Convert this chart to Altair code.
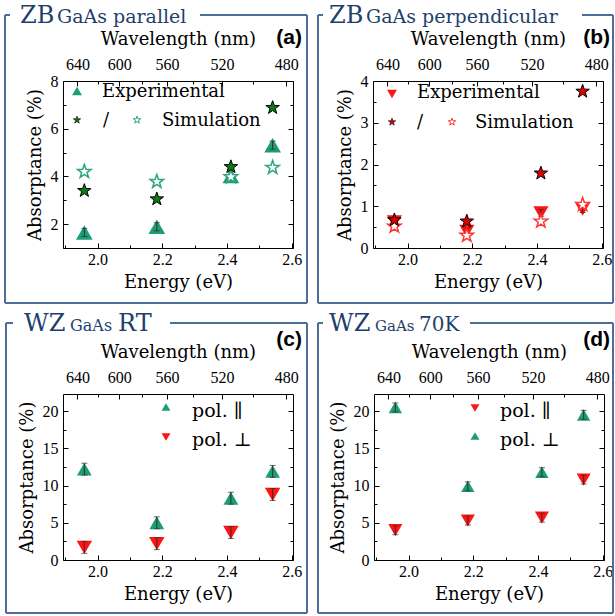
import altair as alt
import pandas as pd

W, H = 615, 616

# ---------------- data ----------------
energy = [1.959, 2.183, 2.412, 2.541]          # eV (laser lines)
energy_ticks = [2.0, 2.2, 2.4, 2.6]
energy_minor = [1.9, 2.1, 2.3, 2.5]
wavelength_ticks = [640, 600, 560, 520, 480]    # nm
wavelength_minor = [620, 580, 540, 500]
HC = 1240.0

# (a) ZB GaAs parallel
a_exp = [1.65, 1.89, 4.02, 5.31]
a_exp_err = [0.17, 0.17, 0.17, 0.17]
a_sim_filled = [3.40, 3.05, 4.40, 6.88]
a_sim_open = [4.20, 3.78, 3.98, 4.37]

# (b) ZB GaAs perpendicular
b_exp = [0.63, 0.40, 0.84, 0.93]
b_exp_err = [0.08, 0.08, 0.08, 0.08]
b_sim_filled = [0.67, 0.64, 1.79, 3.75]
b_sim_open = [0.52, 0.30, 0.64, 1.04]

# (c) WZ GaAs RT
c_par = [12.2, 5.0, 8.3, 11.9]
c_par_err = [0.8, 0.8, 0.8, 0.8]
c_perp = [1.7, 2.2, 3.7, 8.8]
c_perp_err = [0.8, 0.8, 0.8, 0.8]

# (d) WZ GaAs 70K
d_par = [4.0, 5.3, 5.7, 10.8]
d_par_err = [0.6, 0.6, 0.6, 0.6]
d_perp = [20.5, 9.9, 11.8, 19.5]
d_perp_err = [0.6, 0.6, 0.6, 0.6]

yticks_a, yminor_a = [2, 4, 6, 8], [1, 3, 5, 7]
yticks_b, yminor_b = [0, 1, 2, 3, 4], [0.5, 1.5, 2.5, 3.5]
yticks_cd, yminor_cd = [0, 5, 10, 15, 20], [2.5, 7.5, 12.5, 17.5]

# texts
x_title = "Energy (eV)"
top_title = "Wavelength (nm)"
y_title = "Absorptance (%)"
leg_exp = "Experimental"
leg_sim = "Simulation"
leg_slash = "/"
leg_par = "pol. \u2225"
leg_perp = "pol. \u22a5"

# ---------------- style ----------------
TICK_FONT = "Liberation Serif"
TXT_FONT = "DejaVu Serif"
LAB_FONT = "Liberation Sans"
GREEN = "#1b9e77"
DKGREEN = "#0b7a12"
OPGREEN = "#2aa57c"
RED = "#ff1414"
DKRED = "#dd0000"
OPRED = "#ff3333"
BLUE = "#1e3f6c"
FRAME = "#4d6e98"
ERR = "#3a2a2a"
STAR = ("M0,-1L0.235,-0.324L0.951,-0.309L0.380,0.124L0.588,0.809L0,0.4"
        "L-0.588,0.809L-0.380,0.124L-0.951,-0.309L-0.235,-0.324Z")

XDOM = [1.893, 2.604]

P = {
    "a": dict(xr=(63, 293), yr=(248, 81), ydom=(1, 8), ymaj=yticks_a, ymin=yminor_a),
    "b": dict(xr=(373, 603), yr=(248, 81), ydom=(0, 4), ymaj=yticks_b, ymin=yminor_b),
    "c": dict(xr=(63, 293), yr=(560, 394), ydom=(0, 22.3), ymaj=yticks_cd, ymin=yminor_cd),
    "d": dict(xr=(374, 604), yr=(560, 394), ydom=(0, 22.3), ymaj=yticks_cd, ymin=yminor_cd),
}

wl_pos = [HC / w for w in wavelength_ticks]
wl_minor_pos = [HC / w for w in wavelength_minor]


def sx(p):
    return alt.Scale(domain=XDOM, range=list(p["xr"]), nice=False, zero=False)


def sy(p):
    return alt.Scale(domain=list(p["ydom"]), range=list(p["yr"]), nice=False, zero=False)


def axis_layer(p, xaxis, yaxis):
    df = pd.DataFrame({"x": [XDOM[0]], "y": [p["ydom"][0]]})
    return alt.Chart(df).mark_point(opacity=0).encode(
        x=alt.X("x:Q", scale=sx(p), axis=xaxis),
        y=alt.Y("y:Q", scale=sy(p), axis=yaxis),
    )


TK = dict(grid=False, domain=False, labels=False, ticks=True, tickColor="black",
          tickWidth=1, title=None)
LBL = dict(grid=False, domain=True, domainColor="black", domainWidth=1, ticks=False,
           tickSize=0, labelFont=TICK_FONT, labelFontSize=16, labelColor="black",
           labelFlush=False, labelOverlap=False, titleFont=TXT_FONT, titleFontSize=18,
           titleFontWeight="normal", titleColor="black")


def axes_for(p):
    xl, xr = p["xr"]
    yb, yt = p["yr"]
    L = []
    L.append(axis_layer(
        p,
        alt.Axis(orient="bottom", offset=yb - H, values=energy_ticks, format=".1f",
                 labelPadding=3, title=x_title, titlePadding=6, **LBL),
        alt.Axis(orient="left", offset=-xl, values=p["ymaj"], labelPadding=5,
                 title=y_title, titlePadding=6, **LBL)))
    L.append(axis_layer(
        p,
        alt.Axis(orient="top", offset=-yt, values=wl_pos,
                 labelExpr="format(1240 / datum.value, '.0f')", labelPadding=9,
                 title=top_title, titlePadding=8, **LBL),
        alt.Axis(orient="right", offset=xr - W, grid=False, domain=True,
                 domainColor="black", ticks=False, labels=False, title=None)))
    L.append(axis_layer(
        p,
        alt.Axis(orient="bottom", offset=yb - 5 - H, values=energy_ticks, tickSize=5, **TK),
        alt.Axis(orient="left", offset=-(xl + 5), values=p["ymaj"], tickSize=5, **TK)))
    L.append(axis_layer(
        p,
        alt.Axis(orient="top", offset=-(yt + 5), values=wl_pos, tickSize=5, **TK),
        alt.Axis(orient="right", offset=(xr - 5) - W, values=p["ymaj"], tickSize=5, **TK)))
    L.append(axis_layer(
        p,
        alt.Axis(orient="bottom", offset=yb - 3 - H, values=energy_minor, tickSize=3, **TK),
        alt.Axis(orient="left", offset=-(xl + 3), values=p["ymin"], tickSize=3, **TK)))
    L.append(axis_layer(
        p,
        alt.Axis(orient="top", offset=-(yt + 3), values=wl_minor_pos, tickSize=3, **TK),
        alt.Axis(orient="right", offset=(xr - 3) - W, values=p["ymin"], tickSize=3, **TK)))
    return L


def points(p, ys, shape, size, fill, stroke=None, sw=0.0):
    df = pd.DataFrame({"x": energy, "y": ys})
    kw = dict(shape=shape, size=size, filled=True, fill=fill, opacity=1)
    if stroke is not None:
        kw.update(stroke=stroke, strokeWidth=sw)
    else:
        kw.update(strokeWidth=0)
    return alt.Chart(df).mark_point(**kw).encode(
        x=alt.X("x:Q", scale=sx(p), axis=None),
        y=alt.Y("y:Q", scale=sy(p), axis=None))


def errbars(p, ys, errs):
    df = pd.DataFrame({"x": energy,
                       "lo": [y - e for y, e in zip(ys, errs)],
                       "hi": [y + e for y, e in zip(ys, errs)]})
    base = alt.Chart(df)
    X = alt.X("x:Q", scale=sx(p), axis=None)
    rule = base.mark_rule(color=ERR, strokeWidth=1).encode(
        x=X, y=alt.Y("lo:Q", scale=sy(p), axis=None), y2="hi:Q")
    caps = [base.mark_tick(orient="horizontal", size=6, thickness=1, color=ERR).encode(
        x=X, y=alt.Y(f"{c}:Q", scale=sy(p), axis=None)) for c in ("lo", "hi")]
    return [rule] + caps


def text(s, x, y, size, font=TXT_FONT, color="black", align="left",
         baseline="middle", weight="normal"):
    return alt.Chart(pd.DataFrame({"t": [s]})).mark_text(
        align=align, baseline=baseline, font=font, fontSize=size, color=color,
        fontWeight=weight).encode(x=alt.value(x), y=alt.value(y), text="t:N")


def marker(x, y, shape, size, fill, stroke=None, sw=0.0):
    kw = dict(shape=shape, size=size, filled=True, fill=fill, opacity=1)
    if stroke is not None:
        kw.update(stroke=stroke, strokeWidth=sw)
    else:
        kw.update(strokeWidth=0)
    return alt.Chart(pd.DataFrame({"k": [0]})).mark_point(**kw).encode(
        x=alt.value(x), y=alt.value(y))


def seg(x1, y1, x2, y2):
    return alt.Chart(pd.DataFrame({"k": [0]})).mark_rule(
        color=FRAME, strokeWidth=2).encode(
        x=alt.value(x1), y=alt.value(y1), x2=alt.value(x2), y2=alt.value(y2))


def frame(l, t, r, b, gap0, gap1):
    return [seg(l, t, gap0, t), seg(gap1, t, r, t), seg(r, t, r, b),
            seg(l, b, r, b), seg(l, t, l, b)]


layers = []
# frames
layers += frame(5, 15, 307, 303, 10, 200)
layers += frame(318, 15, 613, 303, 323, 582)
layers += frame(6, 323, 307, 613, 13, 170)
layers += frame(318, 323, 613, 613, 323, 470)

# panel titles
T = dict(color=BLUE, baseline="alphabetic")
layers += [text("ZB", 20, 23, 24, **T),
           text("GaAs parallel", 57, 23, 19, **T),
           text("ZB", 329, 23, 24, **T),
           text("GaAs perpendicular", 366, 23, 19, **T),
           text("WZ", 24, 331, 24, **T),
           text("GaAs", 70, 331, 16, **T),
           text("RT", 118, 331, 24, **T),
           text("WZ", 329, 331, 24, **T),
           text("GaAs", 375, 331, 15, **T),
           text("70K", 419, 331, 20, **T)]

# panel letters
layers += [text("(a)", 302, 38, 21, font=LAB_FONT, align="right", weight="bold"),
           text("(b)", 610, 38, 21, font=LAB_FONT, align="right", weight="bold"),
           text("(c)", 302, 340, 21, font=LAB_FONT, align="right", weight="bold"),
           text("(d)", 610, 340, 21, font=LAB_FONT, align="right", weight="bold")]

# axes
for k in "abcd":
    layers += axes_for(P[k])

# ---- panel a ----
pa = P["a"]
layers.append(points(pa, a_exp, "triangle-up", 280, GREEN))
layers += errbars(pa, a_exp, a_exp_err)
layers.append(points(pa, a_sim_open, STAR, 200, "white", OPGREEN, 1.5))
layers.append(points(pa, a_sim_filled, STAR, 200, DKGREEN, "black", 1))
layers += [marker(77, 91, "triangle-up", 100, GREEN),
           text(leg_exp, 102, 92, 18),
           marker(77, 120, STAR, 60, DKGREEN, "black", 0.6),
           text(leg_slash, 103, 121, 18),
           marker(137, 120, STAR, 60, "white", OPGREEN, 1),
           text(leg_sim, 162, 121, 18)]

# ---- panel b ----
pb = P["b"]
layers.append(points(pb, b_exp, "triangle-down", 230, RED))
layers += errbars(pb, b_exp, b_exp_err)
layers.append(points(pb, b_sim_open, STAR, 200, "white", OPRED, 1.5))
layers.append(points(pb, b_sim_filled, STAR, 200, DKRED, "black", 1))
layers += [marker(392, 94, "triangle-down", 100, RED),
           text(leg_exp, 417, 93, 18),
           marker(392, 122, STAR, 60, DKRED, "black", 0.6),
           text(leg_slash, 417, 123, 18),
           marker(452, 122, STAR, 60, "white", OPRED, 1),
           text(leg_sim, 475, 123, 18)]

# ---- panel c ----
pc = P["c"]
layers.append(points(pc, c_par, "triangle-up", 220, GREEN))
layers += errbars(pc, c_par, c_par_err)
layers.append(points(pc, c_perp, "triangle-down", 240, RED))
layers += errbars(pc, c_perp, c_perp_err)
layers += [marker(166, 407, "triangle-up", 80, GREEN),
           text(leg_par, 192, 411, 19),
           marker(166, 437, "triangle-down", 80, RED),
           text(leg_perp, 192, 440, 19)]

# ---- panel d ----
pdd = P["d"]
layers.append(points(pdd, d_perp, "triangle-up", 180, GREEN))
layers += errbars(pdd, d_perp, d_perp_err)
layers.append(points(pdd, d_par, "triangle-down", 200, RED))
layers += errbars(pdd, d_par, d_par_err)
layers += [marker(475, 408, "triangle-down", 80, RED),
           text(leg_par, 500, 411, 19),
           marker(475, 436, "triangle-up", 80, GREEN),
           text(leg_perp, 500, 440, 19)]

chart = alt.layer(*layers).resolve_scale(
    x="independent", y="independent"
).resolve_axis(
    x="independent", y="independent"
).properties(
    width=W, height=H, autosize=alt.AutoSizeParams(type="none"), padding=0,
    background="white"
).configure_view(strokeWidth=0)

chart.save("out.html", embed_options={"renderer": "svg", "actions": False})
